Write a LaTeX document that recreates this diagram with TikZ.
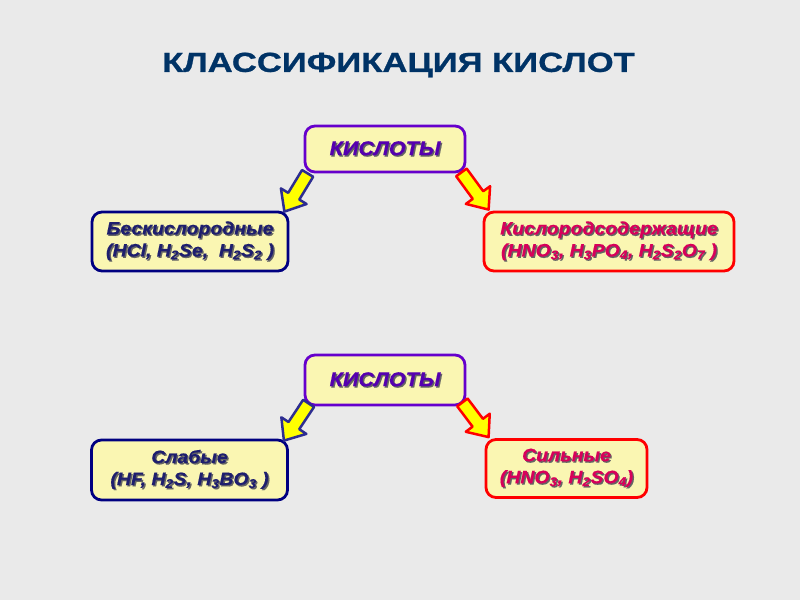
\documentclass[tikz,border=0pt]{standalone}
\usepackage{fontspec}
\setmainfont{Liberation Sans}
\newfontfamily\boxfont[FakeStretch=1.08,FakeBold=0.5]{Liberation Sans}
\newfontfamily\titlefont[FakeStretch=1.26,FakeBold=1]{Liberation Sans}
\usetikzlibrary{calc}
\definecolor{bgc}{RGB}{234,234,234}
\definecolor{titlec}{RGB}{0,51,102}
\definecolor{boxfill}{RGB}{250,246,178}
\definecolor{purplec}{RGB}{102,0,204}
\definecolor{purpletext}{RGB}{85,0,175}
\definecolor{navyc}{RGB}{0,0,128}
\definecolor{navytext}{RGB}{30,30,110}
\definecolor{redc}{RGB}{255,0,0}
\definecolor{redtext}{RGB}{215,0,90}
\definecolor{arrowfill}{RGB}{255,255,0}
\definecolor{navyarrow}{RGB}{45,45,145}
\definecolor{shadowc}{RGB}{100,100,100}
\newcommand{\sh}[1]{\leavevmode\rlap{\kern1.4pt\raisebox{-1.4pt}{\color{shadowc}#1}}#1}
\newcommand{\barrow}[3]{%
  \coordinate (bh) at ($(#2)!18pt!(#1)$);
  \draw[arrowst, draw=#3]
    ($(#1)!6.5pt!90:(#2)$) -- ($(bh)!6.5pt!-90:(#1)$) -- ($(bh)!15pt!-90:(#1)$)
    -- (#2) -- ($(bh)!15pt!90:(#1)$) -- ($(bh)!6.5pt!90:(#1)$)
    -- ($(#1)!6.5pt!-90:(#2)$) -- cycle;}
\tikzset{
  box/.style={rounded corners=10pt, line width=2.8pt, fill=boxfill,
    align=center, inner sep=0pt, font=\boxfont\bfseries\itshape\fontsize{18}{22}\selectfont},
  rootbox/.style={box, draw=purplec, text=purpletext, minimum width=160pt,
    font=\boxfont\bfseries\itshape\fontsize{20}{24}\selectfont},
  navybox/.style={box, draw=navyc, text=navytext, minimum width=196pt, minimum height=59pt},
  redbox/.style={box, draw=redc, text=redtext},
  arrowst/.style={fill=arrowfill, line width=2.5pt, line join=round},
}
\begin{document}
\begin{tikzpicture}[x=1pt,y=-1pt]
\fill[bgc] (0,0) rectangle (800,600);
\useasboundingbox (0,0) rectangle (800,600);

\node[text=titlec, font=\titlefont\bfseries\fontsize{27.5}{32}\selectfont] (title) at (398.5,65) {КЛАССИФИКАЦИЯ КИСЛОТ};

\node[rootbox, minimum height=46pt] (k1) at (385,149) {\sh{КИСЛОТЫ}};
\node[navybox] (bk) at (190,241.5) {\sh{Бескислородные}\\\sh{(HCl, H\textsubscript{2}Se,\ \ H\textsubscript{2}S\textsubscript{2} )}};
\node[redbox, minimum width=250pt, minimum height=59pt] (ks) at (609,241.5) {\sh{Кислородсодержащие}\\\sh{(HNO\textsubscript{3}, H\textsubscript{3}PO\textsubscript{4}, H\textsubscript{2}S\textsubscript{2}O\textsubscript{7} )}};

\node[rootbox, minimum height=50pt] (k2) at (385,380) {\sh{КИСЛОТЫ}};
\node[navybox, minimum height=60pt] (sl) at (189.5,470) {\sh{Слабые}\\\sh{(HF, H\textsubscript{2}S, H\textsubscript{3}BO\textsubscript{3} )}};
\node[redbox, minimum width=161pt, minimum height=58pt] (si) at (566.5,468.5) {\sh{Сильные}\\\sh{(HNO\textsubscript{3}, H\textsubscript{2}SO\textsubscript{4})}};

\coordinate (t1) at ($(k1.south west)+(4,0)$);
\coordinate (p1) at ($(bk.north east)+(-5,1)$);
\coordinate (t2) at ($(k1.south east)+(-5,-1)$);
\coordinate (p2) at ($(ks.north west)+(6,-1)$);
\coordinate (t3) at ($(k2.south west)+(5,-3)$);
\coordinate (p3) at ($(sl.north east)+(-5,2)$);
\coordinate (t4) at ($(k2.south east)+(-4,-4)$);
\coordinate (p4) at ($(si.north west)+(4,-1)$);
\barrow{t1}{p1}{navyarrow}
\barrow{t2}{p2}{redc}
\barrow{t3}{p3}{navyarrow}
\barrow{t4}{p4}{redc}
\end{tikzpicture}
\end{document}
